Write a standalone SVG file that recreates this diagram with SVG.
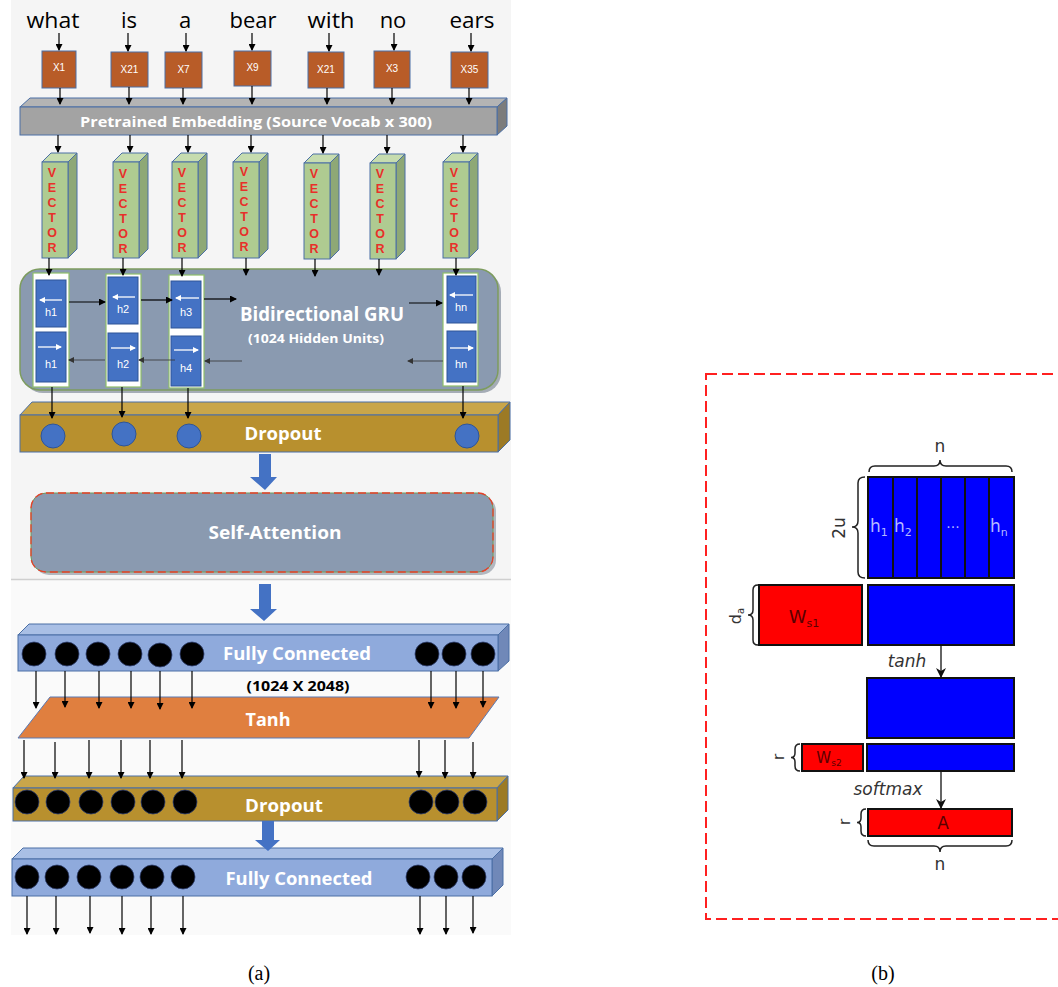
<svg xmlns="http://www.w3.org/2000/svg" width="1058" height="987" viewBox="0 0 1058 987">
<defs>
<marker id="ah" markerWidth="7" markerHeight="7" refX="6" refY="3.5" orient="auto" markerUnits="userSpaceOnUse"><path d="M0,0 L7,3.5 L0,7 z" fill="#000"/></marker>
<marker id="ahg" markerWidth="6" markerHeight="6" refX="5" refY="3" orient="auto" markerUnits="userSpaceOnUse"><path d="M0,0 L6,3 L0,6 z" fill="#333"/></marker>
<marker id="ahw" markerWidth="6" markerHeight="6" refX="5" refY="3" orient="auto" markerUnits="userSpaceOnUse"><path d="M0,0 L6,3 L0,6 z" fill="#fff"/></marker>
<marker id="ahb" markerWidth="10" markerHeight="10" refX="9" refY="5" orient="auto" markerUnits="userSpaceOnUse"><path d="M0,0 L10,5 L0,10 L3,5 z" fill="#111"/></marker>
</defs>
<style>
.word{font-family:"Open Sans","Liberation Sans",sans-serif;font-size:22px;fill:#000;text-anchor:middle}
.xbox{fill:#b85c28;stroke:#4a6fa5;stroke-width:1}
.xt{font-family:"Liberation Sans",sans-serif;font-size:10px;fill:#fff;text-anchor:middle}
.lbl{font-family:"Open Sans","Liberation Sans",sans-serif;font-weight:bold;fill:#fff;text-anchor:middle}
.vf{fill:#afcb91;stroke:#4a6fa5;stroke-width:1}
.vt{fill:#c6dcaf;stroke:#4a6fa5;stroke-width:1}
.vs{fill:#8ea876;stroke:#4a6fa5;stroke-width:1}
.vl{font-family:"Liberation Sans",sans-serif;font-weight:bold;font-size:12.5px;fill:#e8302a;text-anchor:middle}
.cell{fill:#fff;stroke:#8fbf6a;stroke-width:1.2}
.hb{fill:#4472c4;stroke:#2f5597;stroke-width:1}
.ht{font-family:"Liberation Sans",sans-serif;font-size:11px;fill:#fff;text-anchor:middle}
.conn{stroke:#000;stroke-width:1.2;fill:none}
.conng{stroke:#333;stroke-width:0.8;fill:none}
.wl{stroke:#fff;stroke-width:1.3}
.bl{fill:#4472c4}
.blk{fill:#000;stroke:#2f3f6f;stroke-width:0.8}
.rt{font-family:"DejaVu Sans","Liberation Sans",sans-serif;fill:#333}
.blu{fill:#0000ff;stroke:#111;stroke-width:2}
.red{fill:#ff0000;stroke:#111;stroke-width:2}
.br{fill:none;stroke:#222;stroke-width:1.5}
.cap{font-family:"Liberation Serif",serif;font-size:20px;fill:#000;text-anchor:middle}
</style>

<!-- backgrounds -->
<rect x="11" y="0" width="500" height="579" fill="#f5f5f5"/>
<rect x="11" y="580" width="500" height="355" fill="#fafafa"/>
<line x1="11" y1="579.5" x2="511" y2="579.5" stroke="#cfcfcf" stroke-width="1.5"/>

<g id="words">
<text class="word" x="53" y="28" textLength="53" lengthAdjust="spacingAndGlyphs">what</text>
<text class="word" x="129" y="28">is</text>
<text class="word" x="185" y="28">a</text>
<text class="word" x="253" y="28" textLength="47" lengthAdjust="spacingAndGlyphs">bear</text>
<text class="word" x="331" y="28" textLength="47" lengthAdjust="spacingAndGlyphs">with</text>
<text class="word" x="393" y="28">no</text>
<text class="word" x="472" y="28" textLength="45" lengthAdjust="spacingAndGlyphs">ears</text>
</g>

<g id="tokens">
<rect class="xbox" x="42" y="51" width="34" height="37"/><text class="xt" x="59" y="71">X1</text>
<rect class="xbox" x="111" y="52" width="37" height="35"/><text class="xt" x="129.5" y="73">X21</text>
<rect class="xbox" x="165" y="52" width="37" height="36"/><text class="xt" x="183.5" y="73">X7</text>
<rect class="xbox" x="234" y="51" width="37" height="35"/><text class="xt" x="252.5" y="71">X9</text>
<rect class="xbox" x="308" y="52" width="36" height="36"/><text class="xt" x="326" y="73">X21</text>
<rect class="xbox" x="374" y="51" width="36" height="37"/><text class="xt" x="392" y="72">X3</text>
<rect class="xbox" x="451" y="52" width="37" height="36"/><text class="xt" x="469.5" y="73">X35</text>
</g>

<g id="embedding">
<polygon points="20,107 30,98 507,98 497,107" fill="#b4b4b4" stroke="#4a6fa5" stroke-width="1"/>
<polygon points="497,107 507,98 507,126 497,135" fill="#7c7c7c" stroke="#4a6fa5" stroke-width="1"/>
<rect x="20" y="107" width="477" height="28" fill="#a3a3a3" stroke="#4a6fa5" stroke-width="1"/>
<text class="lbl" x="256" y="127" font-size="14" textLength="352" lengthAdjust="spacingAndGlyphs">Pretrained Embedding (Source Vocab x 300)</text>
</g>

<g id="vectors">
<g id="v1"><polygon class="vt" points="42,162 51,153 77,153 68,162"/><polygon class="vs" points="68,162 77,153 77,249 68,258"/><rect class="vf" x="42" y="162" width="26" height="96"/>
<text class="vl"><tspan x="52" y="177">V</tspan><tspan x="52" y="192">E</tspan><tspan x="52" y="207">C</tspan><tspan x="52" y="222">T</tspan><tspan x="52" y="237">O</tspan><tspan x="52" y="252">R</tspan></text></g>
<g id="v2"><polygon class="vt" points="113,162 122,153 148,153 139,162"/><polygon class="vs" points="139,162 148,153 148,249 139,258"/><rect class="vf" x="113" y="162" width="26" height="96"/>
<text class="vl"><tspan x="123" y="178">V</tspan><tspan x="123" y="193">E</tspan><tspan x="123" y="208">C</tspan><tspan x="123" y="223">T</tspan><tspan x="123" y="238">O</tspan><tspan x="123" y="253">R</tspan></text></g>
<g id="v3"><polygon class="vt" points="172,162 181,153 207,153 198,162"/><polygon class="vs" points="198,162 207,153 207,249 198,258"/><rect class="vf" x="172" y="162" width="26" height="96"/>
<text class="vl"><tspan x="182" y="177">V</tspan><tspan x="182" y="192">E</tspan><tspan x="182" y="207">C</tspan><tspan x="182" y="222">T</tspan><tspan x="182" y="237">O</tspan><tspan x="182" y="252">R</tspan></text></g>
<g id="v4"><polygon class="vt" points="233,162 242,153 268,153 259,162"/><polygon class="vs" points="259,162 268,153 268,249 259,258"/><rect class="vf" x="233" y="162" width="26" height="96"/>
<text class="vl"><tspan x="244" y="176">V</tspan><tspan x="244" y="191">E</tspan><tspan x="244" y="206">C</tspan><tspan x="244" y="221">T</tspan><tspan x="244" y="236">O</tspan><tspan x="244" y="251">R</tspan></text></g>
<g id="v5"><polygon class="vt" points="304,163 313,154 339,154 330,163"/><polygon class="vs" points="330,163 339,154 339,250 330,259"/><rect class="vf" x="304" y="163" width="26" height="96"/>
<text class="vl"><tspan x="314" y="178">V</tspan><tspan x="314" y="193">E</tspan><tspan x="314" y="208">C</tspan><tspan x="314" y="223">T</tspan><tspan x="314" y="238">O</tspan><tspan x="314" y="253">R</tspan></text></g>
<g id="v6"><polygon class="vt" points="370,163 379,154 405,154 396,163"/><polygon class="vs" points="396,163 405,154 405,250 396,259"/><rect class="vf" x="370" y="163" width="26" height="96"/>
<text class="vl"><tspan x="380" y="178">V</tspan><tspan x="380" y="193">E</tspan><tspan x="380" y="208">C</tspan><tspan x="380" y="223">T</tspan><tspan x="380" y="238">O</tspan><tspan x="380" y="253">R</tspan></text></g>
<g id="v7"><polygon class="vt" points="443,162 452,153 478,153 469,162"/><polygon class="vs" points="469,162 478,153 478,249 469,258"/><rect class="vf" x="443" y="162" width="26" height="96"/>
<text class="vl"><tspan x="454" y="177">V</tspan><tspan x="454" y="192">E</tspan><tspan x="454" y="207">C</tspan><tspan x="454" y="222">T</tspan><tspan x="454" y="237">O</tspan><tspan x="454" y="252">R</tspan></text></g>
</g>

<g id="gru">
<rect x="23" y="272" width="478" height="121" rx="20" fill="#6f7b8c" opacity="0.6"/>
<rect x="20" y="269" width="478" height="121" rx="20" fill="#8a9ab0" stroke="#7d9c5e" stroke-width="1.5"/>
<text class="lbl" x="322" y="321" font-size="20" textLength="164" lengthAdjust="spacingAndGlyphs">Bidirectional GRU</text>
<text class="lbl" x="316" y="343" font-size="13" textLength="136" lengthAdjust="spacingAndGlyphs">(1024 Hidden Units)</text>
<g id="c1"><rect class="cell" x="33" y="273" width="36" height="114"/>
<rect class="hb" x="36" y="280" width="30" height="47"/><line class="wl" x1="62" y1="300" x2="40" y2="300" marker-end="url(#ahw)"/><text class="ht" x="51" y="316">h1</text>
<rect class="hb" x="36" y="332" width="30" height="50"/><line class="wl" x1="38" y1="347" x2="61" y2="347" marker-end="url(#ahw)"/><text class="ht" x="51" y="368">h1</text></g>
<g id="c2"><rect class="cell" x="106" y="274" width="35" height="113"/>
<rect class="hb" x="108" y="277" width="30" height="47"/><line class="wl" x1="135" y1="297" x2="113" y2="297" marker-end="url(#ahw)"/><text class="ht" x="123" y="313">h2</text>
<rect class="hb" x="108" y="333" width="30" height="48"/><line class="wl" x1="111" y1="348" x2="135" y2="348" marker-end="url(#ahw)"/><text class="ht" x="123" y="368">h2</text></g>
<g id="c3"><rect class="cell" x="169" y="275" width="35" height="113"/>
<rect class="hb" x="171" y="281" width="30" height="47"/><line class="wl" x1="199" y1="298" x2="176" y2="298" marker-end="url(#ahw)"/><text class="ht" x="186" y="316">h3</text>
<rect class="hb" x="171" y="336" width="30" height="50"/><line class="wl" x1="174" y1="350" x2="198" y2="350" marker-end="url(#ahw)"/><text class="ht" x="186" y="372">h4</text></g>
<g id="cn"><rect class="cell" x="443" y="273" width="35" height="113"/>
<rect class="hb" x="447" y="276" width="29" height="47"/><line class="wl" x1="473" y1="295" x2="450" y2="295" marker-end="url(#ahw)"/><text class="ht" x="461" y="311">hn</text>
<rect class="hb" x="447" y="331" width="29" height="51"/><line class="wl" x1="450" y1="348" x2="473" y2="348" marker-end="url(#ahw)"/><text class="ht" x="461" y="368">hn</text></g>
</g>

<g id="dropout1">
<polygon points="20,415 32,402 510,402 498,415" fill="#c9a64a" stroke="#4a6fa5" stroke-width="1"/>
<polygon points="498,415 510,402 510,440 498,452" fill="#9c7a25" stroke="#4a6fa5" stroke-width="1"/>
<rect x="20" y="415" width="478" height="37" fill="#b8902e" stroke="#4a6fa5" stroke-width="1"/>
<circle class="hb" cx="53" cy="436" r="12"/><circle class="hb" cx="124" cy="434" r="12"/><circle class="hb" cx="189" cy="436" r="12"/><circle class="hb" cx="467" cy="436" r="12"/>
<text class="lbl" x="283" y="440" font-size="18" textLength="77" lengthAdjust="spacingAndGlyphs">Dropout</text>
</g>

<g id="selfattention">
<rect x="34" y="496" width="462" height="79" rx="15" fill="#6f7b8c" opacity="0.5"/>
<rect x="31" y="493" width="462" height="79" rx="15" fill="#8a9ab0" stroke="#6e9a5a" stroke-width="1"/>
<rect x="31" y="493" width="462" height="79" rx="15" fill="none" stroke="#e8402a" stroke-width="1.3" stroke-dasharray="8,4"/>
<text class="lbl" x="275" y="539" font-size="18" textLength="133" lengthAdjust="spacingAndGlyphs">Self-Attention</text>
</g>

<g id="fc1">
<polygon points="18,635 29,624 509,624 498,635" fill="#a9bfe5" stroke="#4a6fa5" stroke-width="1"/>
<polygon points="498,635 509,624 509,661 498,671" fill="#7088b8" stroke="#4a6fa5" stroke-width="1"/>
<rect x="18" y="635" width="480" height="36" fill="#8faadc" stroke="#4a6fa5" stroke-width="1"/>
<circle class="blk" cx="34" cy="654" r="12"/><circle class="blk" cx="67" cy="654" r="12"/><circle class="blk" cx="98" cy="654" r="12"/><circle class="blk" cx="130" cy="654" r="12"/><circle class="blk" cx="160" cy="655" r="12"/><circle class="blk" cx="192" cy="654" r="12"/><circle class="blk" cx="427" cy="654" r="12"/><circle class="blk" cx="454" cy="654" r="12"/><circle class="blk" cx="483" cy="654" r="12"/>
<text class="lbl" x="297" y="660" font-size="18" textLength="148" lengthAdjust="spacingAndGlyphs">Fully Connected</text>
<text x="298" y="691" font-family="Open Sans, Liberation Sans, sans-serif" font-weight="bold" font-size="14" fill="#000" text-anchor="middle" textLength="103" lengthAdjust="spacingAndGlyphs">(1024 X 2048)</text>
</g>

<g id="tanh">
<polygon points="18,738 50,697 499,697 469,738" fill="#e07f3f" stroke="#5a7ab5" stroke-width="1"/>
<text class="lbl" x="268" y="726" font-size="18" textLength="45" lengthAdjust="spacingAndGlyphs">Tanh</text>
</g>

<g id="dropout2">
<polygon points="13,788 24,776 508,776 497,788" fill="#c9a64a" stroke="#4a6fa5" stroke-width="1"/>
<polygon points="497,788 508,776 508,810 497,821" fill="#9c7a25" stroke="#4a6fa5" stroke-width="1"/>
<rect x="13" y="788" width="484" height="33" fill="#b8902e" stroke="#4a6fa5" stroke-width="1"/>
<circle class="blk" cx="27" cy="802" r="12"/><circle class="blk" cx="58" cy="802" r="12"/><circle class="blk" cx="91" cy="802" r="12"/><circle class="blk" cx="123" cy="802" r="12"/><circle class="blk" cx="153" cy="802" r="12"/><circle class="blk" cx="185" cy="802" r="12"/><circle class="blk" cx="421" cy="802" r="12"/><circle class="blk" cx="447" cy="802" r="12"/><circle class="blk" cx="475" cy="802" r="12"/>
<text class="lbl" x="284" y="812" font-size="18" textLength="78" lengthAdjust="spacingAndGlyphs">Dropout</text>
</g>

<g id="fc2">
<polygon points="12,859 23,848 503,848 492,859" fill="#a9bfe5" stroke="#4a6fa5" stroke-width="1"/>
<polygon points="492,859 503,848 503,885 492,896" fill="#7088b8" stroke="#4a6fa5" stroke-width="1"/>
<rect x="12" y="859" width="480" height="37" fill="#8faadc" stroke="#4a6fa5" stroke-width="1"/>
<circle class="blk" cx="27" cy="877" r="12"/><circle class="blk" cx="57" cy="877" r="12"/><circle class="blk" cx="89" cy="877" r="12"/><circle class="blk" cx="122" cy="877" r="12"/><circle class="blk" cx="152" cy="877" r="12"/><circle class="blk" cx="183" cy="877" r="12"/><circle class="blk" cx="418" cy="877" r="12"/><circle class="blk" cx="446" cy="877" r="12"/><circle class="blk" cx="474" cy="877" r="12"/>
<text class="lbl" x="299" y="885" font-size="18" textLength="147" lengthAdjust="spacingAndGlyphs">Fully Connected</text>
</g>

<g id="connectors">
<!-- words to tokens -->
<path class="conn" marker-end="url(#ah)" d="M59,33V50"/><path class="conn" marker-end="url(#ah)" d="M128,33V51"/><path class="conn" marker-end="url(#ah)" d="M186,33V51"/><path class="conn" marker-end="url(#ah)" d="M252,33V50"/><path class="conn" marker-end="url(#ah)" d="M329,33V51"/><path class="conn" marker-end="url(#ah)" d="M394,33V50"/><path class="conn" marker-end="url(#ah)" d="M471,33V51"/>
<!-- tokens to embedding -->
<path class="conn" marker-end="url(#ah)" d="M60,88V104"/><path class="conn" marker-end="url(#ah)" d="M129,87V104"/><path class="conn" marker-end="url(#ah)" d="M183,88V104"/><path class="conn" marker-end="url(#ah)" d="M252,86V104"/><path class="conn" marker-end="url(#ah)" d="M327,88V104"/><path class="conn" marker-end="url(#ah)" d="M392,88V104"/><path class="conn" marker-end="url(#ah)" d="M469,88V104"/>
<!-- embedding to vectors -->
<path class="conn" marker-end="url(#ah)" d="M58,135V152"/><path class="conn" marker-end="url(#ah)" d="M130,135V152"/><path class="conn" marker-end="url(#ah)" d="M188,135V152"/><path class="conn" marker-end="url(#ah)" d="M251,135V152"/><path class="conn" marker-end="url(#ah)" d="M323,135V153"/><path class="conn" marker-end="url(#ah)" d="M387,135V153"/><path class="conn" marker-end="url(#ah)" d="M463,135V152"/>
<!-- vectors to GRU -->
<path class="conn" marker-end="url(#ah)" d="M49,258V275"/><path class="conn" marker-end="url(#ah)" d="M123,258V275"/><path class="conn" marker-end="url(#ah)" d="M182,258V276"/><path class="conn" marker-end="url(#ah)" d="M246,258V275"/><path class="conn" marker-end="url(#ah)" d="M315,259V276"/><path class="conn" marker-end="url(#ah)" d="M379,259V275"/><path class="conn" marker-end="url(#ah)" d="M456,258V275"/>
<!-- GRU forward -->
<path class="conn" marker-end="url(#ah)" d="M69,302H105"/><path class="conn" marker-end="url(#ah)" d="M141,300H172"/><path class="conn" marker-end="url(#ah)" d="M204,299H236"/><path class="conn" marker-end="url(#ah)" d="M409,303H442"/>
<!-- GRU backward -->
<path class="conng" marker-end="url(#ahg)" d="M105,360H69"/><path class="conng" marker-end="url(#ahg)" d="M175,360H139"/><path class="conng" marker-end="url(#ahg)" d="M242,361H205"/><path class="conng" marker-end="url(#ahg)" d="M443,361H408"/>
<!-- GRU to dropout -->
<path class="conn" marker-end="url(#ah)" d="M52,387V418"/><path class="conn" marker-end="url(#ah)" d="M122,387V417"/><path class="conn" marker-end="url(#ah)" d="M188,388V418"/><path class="conn" marker-end="url(#ah)" d="M463,386V418"/>
<!-- block arrows -->
<polygon class="bl" points="259,454 271,454 271,477 277,477 265,490 250,477 259,477"/>
<polygon class="bl" points="259,584 271,584 271,609 277,609 264,621 250,609 259,609"/>
<polygon class="bl" points="262,821 274,821 274,840 280,840 268,851 255,840 262,840"/>
<!-- FC1 to tanh -->
<path class="conn" marker-end="url(#ah)" d="M36,671V708"/><path class="conn" marker-end="url(#ah)" d="M65,671V707"/><path class="conn" marker-end="url(#ah)" d="M99,671V708"/><path class="conn" marker-end="url(#ah)" d="M131,671V708"/><path class="conn" marker-end="url(#ah)" d="M160,671V709"/><path class="conn" marker-end="url(#ah)" d="M192,671V708"/><path class="conn" marker-end="url(#ah)" d="M431,671V708"/><path class="conn" marker-end="url(#ah)" d="M456,671V708"/><path class="conn" marker-end="url(#ah)" d="M483,671V707"/>
<!-- tanh to dropout2 -->
<path class="conn" marker-end="url(#ah)" d="M24,740V778"/><path class="conn" marker-end="url(#ah)" d="M55,742V778"/><path class="conn" marker-end="url(#ah)" d="M89,740V778"/><path class="conn" marker-end="url(#ah)" d="M121,740V778"/><path class="conn" marker-end="url(#ah)" d="M150,740V778"/><path class="conn" marker-end="url(#ah)" d="M182,740V778"/><path class="conn" marker-end="url(#ah)" d="M419,740V777"/><path class="conn" marker-end="url(#ah)" d="M445,740V778"/><path class="conn" marker-end="url(#ah)" d="M473,742V778"/>
<!-- outputs -->
<path class="conn" marker-end="url(#ah)" d="M27,896V934"/><path class="conn" marker-end="url(#ah)" d="M56,896V934"/><path class="conn" marker-end="url(#ah)" d="M90,896V933"/><path class="conn" marker-end="url(#ah)" d="M122,896V934"/><path class="conn" marker-end="url(#ah)" d="M151,896V934"/><path class="conn" marker-end="url(#ah)" d="M183,896V934"/><path class="conn" marker-end="url(#ah)" d="M420,896V934"/><path class="conn" marker-end="url(#ah)" d="M446,896V934"/><path class="conn" marker-end="url(#ah)" d="M473,896V933"/>
</g>

<!-- panel (b) -->
<rect x="706" y="374" width="370" height="545" fill="none" stroke="#ff2020" stroke-width="2" stroke-dasharray="11,5"/>

<g id="hmatrix">
<rect class="blu" x="868" y="477" width="146" height="101"/>
<path d="M893,477V578 M917,477V578 M941,477V578 M965,477V578 M989,477V578" stroke="#111" stroke-width="2"/>
<text class="rt" font-size="17" style="fill:#b4b8ff"><tspan x="870" y="532">h</tspan><tspan font-size="11" dy="4">1</tspan></text>
<text class="rt" font-size="17" style="fill:#b4b8ff"><tspan x="894" y="532">h</tspan><tspan font-size="11" dy="4">2</tspan></text>
<text class="rt" font-size="14" style="fill:#b4b8ff" x="953" y="532" text-anchor="middle">···</text>
<text class="rt" font-size="17" style="fill:#b4b8ff"><tspan x="990" y="532">h</tspan><tspan font-size="11" dy="4">n</tspan></text>
<path class="br" d="M869,472 Q869,466 875,466 L934,466 Q940,466 940,460 Q940,466 946,466 L1006,466 Q1012,466 1012,472"/>
<text class="rt" x="940" y="452" font-size="17" text-anchor="middle">n</text>
<path class="br" d="M865,477 Q858,477 858,483 L858,521 Q858,527 852,527 Q858,527 858,533 L858,572 Q858,578 865,578"/>
<text class="rt" font-size="17" text-anchor="middle" transform="translate(845,528) rotate(-90)">2u</text>
</g>

<g id="ws1">
<rect class="red" x="759" y="585" width="103" height="60"/>
<text font-family="DejaVu Sans, Liberation Sans, sans-serif" font-size="18" fill="#5a0000" text-anchor="middle" x="804" y="623">W<tspan font-size="11" dy="4">s1</tspan></text>
<rect class="blu" x="868" y="585" width="146" height="60"/>
<path class="br" d="M758,585 Q753,585 753,590 L753,610 Q753,615 748,615 Q753,615 753,620 L753,640 Q753,645 758,645"/>
<text class="rt" font-size="16" text-anchor="middle" transform="translate(741,616) rotate(-90)">d<tspan font-size="10" dy="3">a</tspan></text>
</g>

<g id="tanhmat">
<rect class="blu" x="867" y="678" width="147" height="60"/>
<text class="rt" x="907" y="667" font-size="17" font-style="italic" text-anchor="middle">tanh</text>
</g>

<g id="ws2">
<rect class="red" x="802" y="744" width="61" height="27"/>
<text font-family="DejaVu Sans, Liberation Sans, sans-serif" font-size="15" fill="#5a0000" text-anchor="middle" x="829" y="763">W<tspan font-size="9" dy="3">s2</tspan></text>
<rect class="blu" x="867" y="744" width="147" height="27"/>
<path class="br" d="M800,744 Q795,744 795,749 L795,753 Q795,757.5 791,757.5 Q795,757.5 795,762 L795,766 Q795,771 800,771"/>
<text class="rt" font-size="15" text-anchor="middle" transform="translate(784,757) rotate(-90)">r</text>
<text class="rt" x="888" y="795" font-size="17" font-style="italic" text-anchor="middle">softmax</text>
</g>

<g id="amat">
<rect class="red" x="868" y="809" width="144" height="27"/>
<text font-family="DejaVu Sans, Liberation Sans, sans-serif" font-size="17" fill="#5a0000" text-anchor="middle" x="943" y="829">A</text>
<path class="br" d="M866,809 Q861,809 861,814 L861,818 Q861,822.5 857,822.5 Q861,822.5 861,827 L861,831 Q861,836 866,836"/>
<text class="rt" font-size="15" text-anchor="middle" transform="translate(850,822) rotate(-90)">r</text>
<path class="br" d="M868,840 Q868,846 874,846 L934,846 Q940,846 940,852 Q940,846 946,846 L1006,846 Q1012,846 1012,840"/>
<text class="rt" x="940" y="870" font-size="17" text-anchor="middle">n</text>
</g>

<g id="bconnectors">
<path d="M941,645V677" stroke="#111" stroke-width="1.3" marker-end="url(#ahb)"/>
<path d="M941,771V808" stroke="#111" stroke-width="1.3" marker-end="url(#ahb)"/>
</g>

<text class="cap" x="259" y="980">(a)</text>
<text class="cap" x="883" y="980">(b)</text>
</svg>
